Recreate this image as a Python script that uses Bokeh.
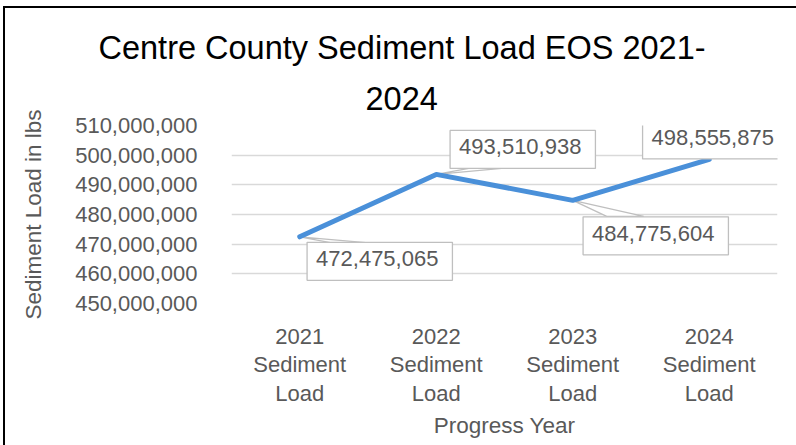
from bokeh.plotting import figure
from bokeh.models import (Range1d, FixedTicker, SingleIntervalTicker, NumeralTickFormatter,
                          Label, Title, ColumnDataSource)
from bokeh.embed import file_html
from bokeh.resources import INLINE

# ---- data ----
categories = ["2021 Sediment Load", "2022 Sediment Load", "2023 Sediment Load", "2024 Sediment Load"]
tick_labels = ["2021\nSediment\nLoad", "2022\nSediment\nLoad", "2023\nSediment\nLoad", "2024\nSediment\nLoad"]
sediment_load = [472475065, 493510938, 484775604, 498555875]
data_labels = ["472,475,065", "493,510,938", "484,775,604", "498,555,875"]
y_ticks_min, y_ticks_max, y_step = 450000000, 510000000, 10000000

title_lines = ["Centre County Sediment Load EOS 2021-", "2024"]
x_title = "Progress Year"
y_title = "Sediment Load in lbs"

# ---- layout (pixels) ----
W, H = 796, 445
FW, FH = 546, 178
ML, MT = 231, 125
MR, MB = W - ML - FW, H - MT - FH
FONT = "Liberation Sans"
GRAY = "#595959"
LINE = "#4A90D9"

# label box offsets (screen px, relative to the data point; y up)
label_offsets = [(80, -24.5), (86.5, 25), (83, -35.5), (6, 19.5)]
# leader wedges: (dx1, dx2, dy_down) screen px from point
leaders = [(32, 69, 6), (38, 75, -7), (34, 71, 16), None]
# title line offsets from frame left (px) and standoffs
title_offsets = [-133, 134]
title_standoffs = [7, 31]

xs = list(range(len(categories)))

p = figure(frame_width=FW, frame_height=FH,
           min_border_left=ML, min_border_top=MT, min_border_right=MR, min_border_bottom=MB,
           x_range=Range1d(-0.5, len(categories) - 0.5),
           y_range=Range1d(y_ticks_min, y_ticks_max),
           output_backend="svg", toolbar_location=None,
           background_fill_color="white", border_fill_color=None, title=None)
p.styles = {"box-shadow": "inset 3px 6px 0px 0px white, inset 5px 8px 0px 0px black",
            "background-color": "white"}
p.outline_line_color = None

# title (two lines, centred over the whole chart)
for txt, off, so in list(zip(title_lines, title_offsets, title_standoffs))[::-1]:
    p.add_layout(Title(text=txt, align="left", offset=off, standoff=so,
                       text_font=FONT, text_font_size="32.5px", text_font_style="normal",
                       text_color="black"), "above")

# grid
p.xgrid.grid_line_color = None
p.ygrid.grid_line_color = "#D9D9D9"
p.ygrid.grid_line_width = 1.3

# axes
p.xaxis.ticker = FixedTicker(ticks=xs)
p.xaxis.major_label_overrides = {i: t for i, t in enumerate(tick_labels)}
p.yaxis.ticker = SingleIntervalTicker(interval=y_step)
p.yaxis.formatter = NumeralTickFormatter(format="0,0")
for ax in (p.xaxis[0], p.yaxis[0]):
    ax.axis_line_color = None
    ax.major_tick_line_color = None
    ax.minor_tick_line_color = None
    ax.major_label_text_font = FONT
    ax.major_label_text_font_size = "22px"
    ax.major_label_text_color = GRAY
    ax.axis_label_text_font = FONT
    ax.axis_label_text_font_size = "22.5px"
    ax.axis_label_text_color = GRAY
    ax.axis_label_text_font_style = "normal"
p.yaxis.major_label_standoff = 28
p.xaxis.major_label_standoff = 14
p.xaxis.major_label_text_line_height = 1.15
p.xaxis.axis_label = x_title
p.yaxis.axis_label = y_title
p.xaxis.axis_label_standoff = 4
p.yaxis.axis_label_standoff = 26

# leader wedges (drawn under line)
px_x = FW / len(categories)
px_y = FH / (y_ticks_max - y_ticks_min)
for xi, yi, ld in zip(xs, sediment_load, leaders):
    if ld is None:
        continue
    dx1, dx2, dyd = ld
    p.patch([xi, xi + dx1 / px_x, xi + dx2 / px_x],
            [yi, yi - dyd / px_y, yi - dyd / px_y],
            fill_color="white", line_color="#BFBFBF", line_width=1.3)

# series line
src = ColumnDataSource(dict(x=xs, y=sediment_load))
p.line("x", "y", source=src, line_color=LINE, line_width=5, line_join="round", line_cap="round")

# data labels
for xi, yi, txt, (ox, oy) in zip(xs, sediment_load, data_labels, label_offsets):
    p.add_layout(Label(x=xi, y=yi, text=txt, x_offset=ox, y_offset=oy,
                       text_align="center", text_baseline="middle",
                       text_font=FONT, text_font_size="22px", text_color=GRAY,
                       background_fill_color="white", border_line_color="#BFBFBF",
                       border_line_width=1.3, padding=(9, 14, 9, 14)))

open("out.html", "w").write(file_html(p, INLINE))
